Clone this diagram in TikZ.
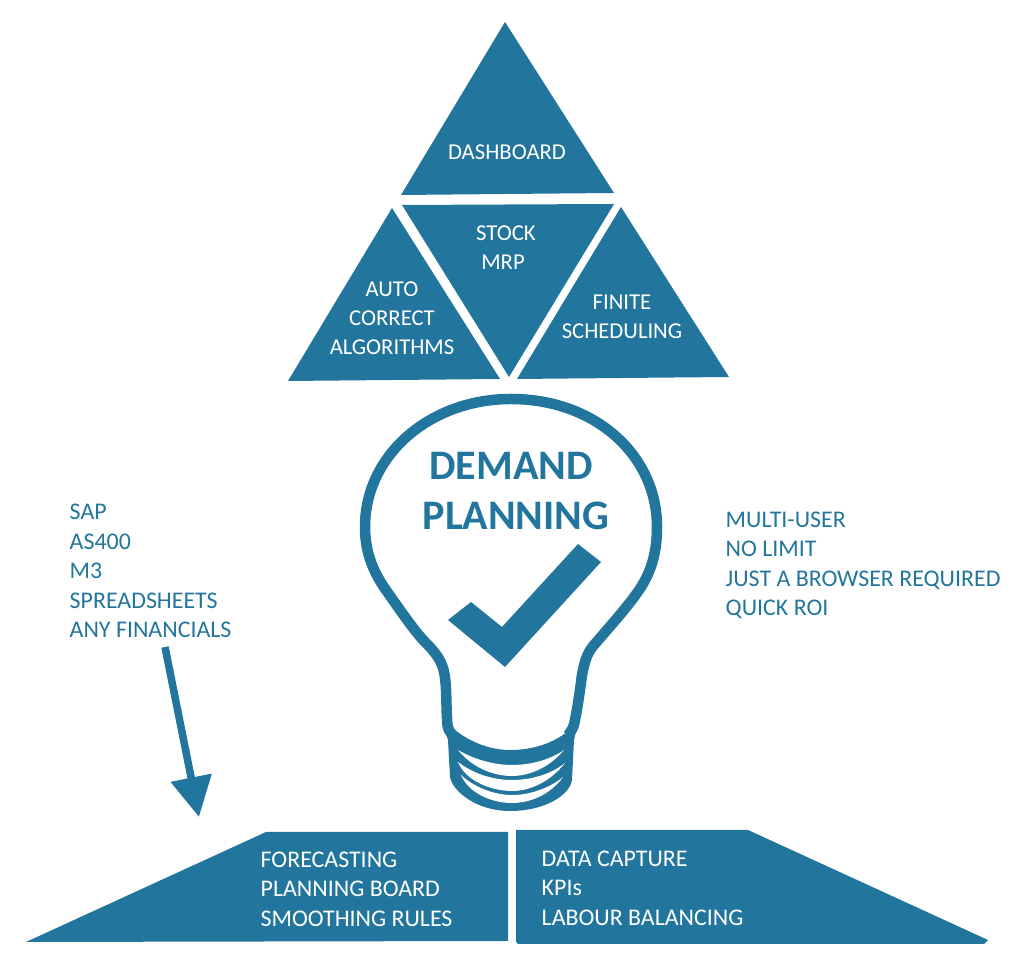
\documentclass[tikz,border=0pt]{standalone}
\usepackage{fontspec}
\setmainfont{Carlito}
\usetikzlibrary{arrows.meta}
\definecolor{planblue}{HTML}{22759C}
\tikzset{
  panel/.style={fill=planblue},
  slit/.style={fill=white},
  paneltext/.style={text=white, inner sep=0pt, align=center, font=\fontsize{6.45pt}{8.25pt}\selectfont},
  listtext/.style={inner sep=0pt, align=left, anchor=west, font=\fontsize{6.8pt}{8.39pt}\selectfont},
  titletext/.style={text=planblue, inner sep=0pt, font=\fontsize{11.95pt}{14pt}\selectfont\bfseries}
}
\begin{document}
\begin{tikzpicture}[x=0.01cm, y=-0.01cm]
\useasboundingbox (0,0) rectangle (1024,968);
% top triangles
\fill[panel] (505,22) -- (401,195) -- (614,193) -- cycle;
\fill[panel] (402,205) -- (614,204) -- (509,377) -- cycle;
\fill[panel] (392,208) -- (288,381) -- (500,379) -- cycle;
\fill[panel] (621,207) -- (517,379) -- (729,377) -- cycle;
\node[paneltext] (dashboard) at (507,152) {DASHBOARD};
\node[paneltext] (stock) at (506,233) {STOCK};
\node[paneltext] (mrp) at (503,262) {MRP};
\node[paneltext] (auto) at (392,318) {AUTO\\CORRECT\\ALGORITHMS};
\node[paneltext] (finite) at (622,317) {FINITE\\SCHEDULING};
% bulb
\draw[planblue, line width=0.105cm, line join=round]
  (456,738) .. controls (449,733) and (447,728) .. (447,718)
  .. controls (446,705) and (447,680) .. (443,668)
  .. controls (440,658) and (433,650) .. (426,643)
  .. controls (415,632) and (400,610) .. (388,593)
  .. controls (375,575) and (365,555) .. (365,527)
  .. controls (365,455) and (430,399) .. (511,399)
  .. controls (595,399) and (657,455) .. (657,527)
  .. controls (657,555) and (650,575) .. (637,593)
  .. controls (625,610) and (605,632) .. (594,645)
  .. controls (586,654) and (584,665) .. (582,675)
  .. controls (580,690) and (578,705) .. (575,720)
  .. controls (574,727) and (572,730) .. (568,735);
\fill[panel] (443,722) -- (448,740) -- (450,777)
  .. controls (452,790) and (475,811) .. (510,811)
  .. controls (545,811) and (570,795) .. (572,780)
  -- (574,740) -- (578,722) -- (567,732)
  .. controls (550,745) and (530,750) .. (510,750)
  .. controls (490,750) and (470,742) .. (455,730) -- cycle;
\fill[slit] (458,750) .. controls (475,760) and (495,765) .. (512,765)
  .. controls (530,765) and (550,760) .. (564,750)
  .. controls (550,767) and (530,776) .. (512,776)
  .. controls (490,776) and (470,765) .. (458,750) -- cycle;
\fill[slit] (458,762) .. controls (475,775) and (495,780) .. (512,780)
  .. controls (530,780) and (550,775) .. (565,763)
  .. controls (550,782) and (530,791) .. (512,791)
  .. controls (490,791) and (465,780) .. (458,762) -- cycle;
\fill[slit] (461,775) .. controls (475,788) and (495,795) .. (512,795)
  .. controls (530,795) and (550,788) .. (563,777)
  .. controls (550,795) and (530,803) .. (512,803)
  .. controls (490,803) and (468,792) .. (461,775) -- cycle;
\node[titletext] (demand) at (511,466) {DEMAND};
\node[titletext] (planning) at (516,516) {PLANNING};
\fill[panel] (448,620) -- (471,602) -- (502,627) -- (578,544) -- (601,562) -- (505,667) -- cycle;
% side lists
\node[listtext, text=planblue] (sources) at (69,571) {SAP\\AS400\\M3\\SPREADSHEETS\\ANY FINANCIALS};
\node[listtext, text=planblue] (features) at (725,565.5) {MULTI-USER\\NO LIMIT\\JUST A BROWSER REQUIRED\\QUICK ROI};
\coordinate (arrowfrom) at (165,647);
\coordinate (arrowto) at (199,817);
\draw[-{Triangle[length=0.4cm, width=0.4cm]}, planblue, line width=0.075cm] (arrowfrom) -- (arrowto);
% bottom panels
\fill[panel] (26,942) -- (266,832) -- (508,832) -- (508,941) -- cycle;
\fill[panel] (516,830) -- (748,830) -- (988,940) -- (984,944) -- (518,944) -- (516,942) -- cycle;
\node[listtext, text=white] (planboard) at (260,889) {FORECASTING\\PLANNING BOARD\\SMOOTHING RULES};
\node[listtext, text=white] (capture) at (541,888) {DATA CAPTURE\\KPIs\\LABOUR BALANCING};
\end{tikzpicture}
\end{document}
